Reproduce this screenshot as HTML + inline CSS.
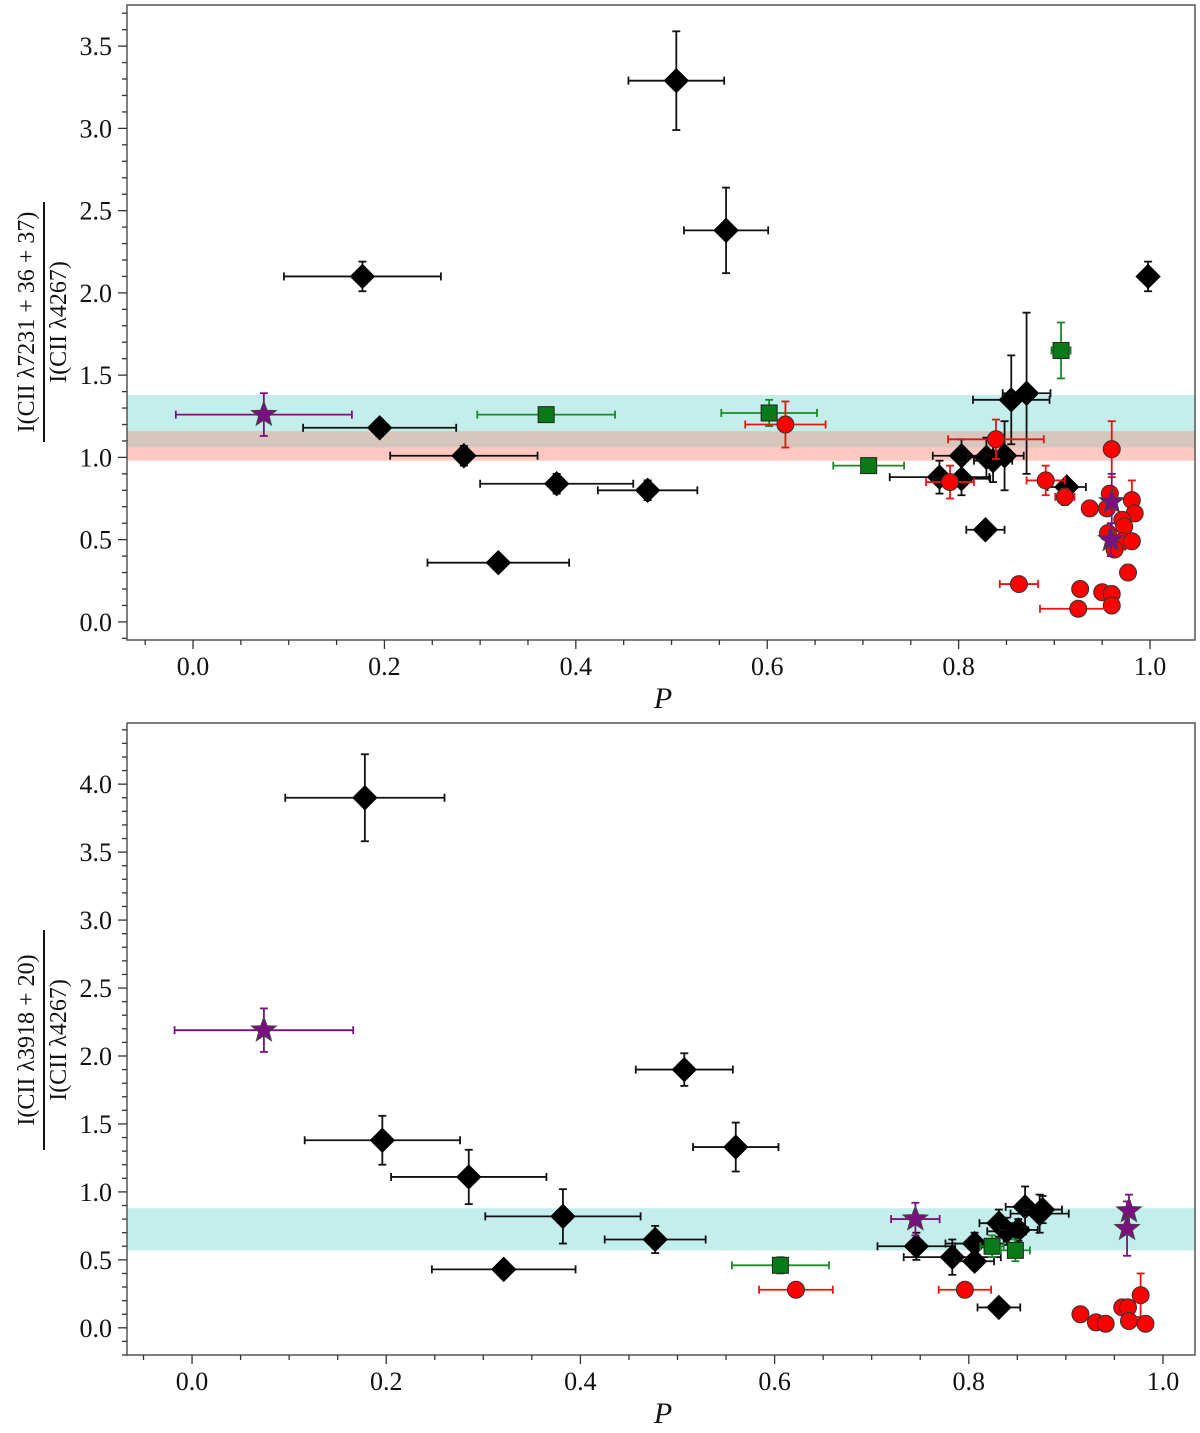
<!DOCTYPE html>
<html><head><meta charset="utf-8">
<style>
html,body{margin:0;padding:0;background:#fff;}
svg{display:block;font-family:"Liberation Serif",serif;}
svg text{font-family:"Liberation Serif",serif;}
</style></head>
<body>
<svg id="fig" width="1200" height="1433" viewBox="0 0 1200 1433" xmlns="http://www.w3.org/2000/svg"></svg>
<script>
// ---------- DATA: top panel ----------
const topDiaP   =[0.505,0.557,0.177,0.998,0.195,0.283,0.380,0.475,0.319,0.780,0.803,0.803,0.829,0.836,0.848,0.855,0.871,0.913,0.828];
const topDiaV   =[3.29,2.38,2.10,2.10,1.18,1.01,0.84,0.80,0.36,0.88,1.01,0.87,1.00,0.98,1.01,1.35,1.39,0.82,0.56];
const topDiaPe  =[0.05,0.044,0.082,0,0.08,0.077,0.08,0.052,0.074,0.052,0.03,0.03,0.02,0.02,0.02,0.04,0.025,0.02,0.02];
const topDiaVe  =[0.30,0.26,0.09,0.09,0.05,0.06,0.06,0.06,0.03,0.10,0.10,0.10,0.12,0.13,0.21,0.27,0.49,0.04,0.03];
const topSqP    =[0.369,0.602,0.706,0.907];
const topSqV    =[1.26,1.27,0.95,1.65];
const topSqPe   =[0.072,0.05,0.037,0.01];
const topSqVe   =[0.03,0.08,0.02,0.17];
const topStarP  =[0.074,0.960,0.959];
const topStarV  =[1.26,0.73,0.50];
const topStarPe =[0.092,0,0];
const topStarVe =[0.13,0.17,0.10];
const topCirP   =[0.619,0.839,0.791,0.891,0.911,0.960,0.937,0.958,0.955,0.981,0.984,0.971,0.973,0.956,0.971,0.981,0.963,0.977,0.863,0.927,0.950,0.960,0.960,0.925];
const topCirV   =[1.20,1.11,0.85,0.86,0.76,1.05,0.69,0.78,0.69,0.74,0.66,0.62,0.58,0.54,0.49,0.49,0.44,0.30,0.23,0.20,0.18,0.17,0.10,0.08];
const topCirPe  =[0.042,0.05,0.025,0.02,0.01,0,0,0,0,0,0,0,0,0,0,0,0,0,0.02,0,0,0,0,0.04];
const topCirVe  =[0.14,0.12,0.10,0.09,0.05,0.17,0.03,0.03,0.03,0.12,0.03,0.03,0.03,0.03,0.05,0.03,0.03,0.03,0.02,0.04,0.02,0.02,0.02,0.02];
const topTicksX =["0.0","0.2","0.4","0.6","0.8","1.0"];
const topTicksY =["0.0","0.5","1.0","1.5","2.0","2.5","3.0","3.5"];
// ---------- DATA: bottom panel ----------
const botDiaP   =[0.178,0.507,0.196,0.285,0.560,0.382,0.477,0.321,0.746,0.783,0.806,0.806,0.831,0.831,0.839,0.851,0.858,0.873,0.876];
const botDiaV   =[3.90,1.90,1.38,1.11,1.33,0.82,0.65,0.43,0.60,0.52,0.62,0.49,0.15,0.77,0.71,0.72,0.89,0.84,0.87];
const botDiaPe  =[0.082,0.05,0.08,0.08,0.044,0.08,0.052,0.074,0.04,0.05,0.03,0.02,0.022,0.02,0.02,0.02,0.02,0.03,0.02];
const botDiaVe  =[0.32,0.12,0.18,0.20,0.18,0.20,0.10,0.06,0.10,0.13,0.08,0.06,0.03,0.10,0.10,0.08,0.15,0.14,0.10];
const botSqP    =[0.606,0.824,0.848];
const botSqV    =[0.46,0.60,0.57];
const botSqPe   =[0.05,0.012,0.015];
const botSqVe   =[0.06,0.08,0.08];
const botStarP  =[0.074,0.745,0.965,0.963];
const botStarV  =[2.19,0.80,0.86,0.73];
const botStarPe =[0.092,0.025,0,0];
const botStarVe =[0.16,0.12,0.12,0.20];
const botCirP   =[0.622,0.796,0.915,0.931,0.941,0.958,0.964,0.965,0.977,0.982];
const botCirV   =[0.28,0.28,0.10,0.04,0.03,0.15,0.15,0.05,0.24,0.03];
const botCirPe  =[0.038,0.027,0.005,0,0,0,0,0,0,0];
const botCirVe  =[0.02,0.03,0.02,0.02,0.02,0.02,0.02,0.02,0.16,0.02];
const botTicksX =["0.0","0.2","0.4","0.6","0.8","1.0"];
const botTicksY =["0.0","0.5","1.0","1.5","2.0","2.5","3.0","3.5","4.0"];

const NS="http://www.w3.org/2000/svg";
const svg=document.getElementById('fig');
function mk(tag,attrs,parent){const e=document.createElementNS(NS,tag);for(const k in attrs)e.setAttribute(k,attrs[k]);(parent||svg).appendChild(e);return e;}
const FF='Liberation Serif, serif';

function panel(cfg){
  const g=mk('g',{});
  
  
  const L=127,R=1195,T=cfg.top,B=cfg.bottom;
  const sx=p=>L+(p-cfg.xmin)/(cfg.xmax-cfg.xmin)*(R-L);
  const sy=v=>B-(v-cfg.ymin)/(cfg.ymax-cfg.ymin)*(B-T);
  cfg.bands.forEach(b=>{
    const r=mk('rect',{x:L,y:sy(b[1]),width:R-L,height:sy(b[0])-sy(b[1]),fill:b[2]},g);
    
    
  });
  const fr=mk('rect',{x:L,y:T,width:R-L,height:B-T,fill:'none',stroke:'#555','stroke-width':1.5},g);
  
  
  for(let i=-1;i<=21;i++){const p=i*0.05;const x=sx(p);if(x<L||x>R)continue;
    const maj=(i%4===0);mk('line',{x1:x,x2:x,y1:B,y2:B+(maj?9:5),stroke:'#333','stroke-width':1.3},g);}
  cfg.xt.forEach(s=>{const t=mk('text',{x:sx(parseFloat(s)),y:B+35,'font-size':26,'font-family':FF,'text-anchor':'middle',fill:'#111'},g);t.textContent=s;
    
    });
  for(let i=-5;i<=50;i++){const v=i*0.1;const y=sy(v);if(y<T||y>B)continue;
    const maj=(i%5===0);mk('line',{x1:L,x2:L-(maj?9:5),y1:y,y2:y,stroke:'#333','stroke-width':1.3},g);}
  cfg.yt.forEach(s=>{const t=mk('text',{x:L-15,y:sy(parseFloat(s))+9,'font-size':26,'font-family':FF,'text-anchor':'end',fill:'#111'},g);t.textContent=s;
    
    });
  const xt=mk('text',{x:(L+R)/2+2,y:B+68,'font-size':30,'font-family':FF,'font-style':'italic','text-anchor':'middle',fill:'#111'},g);
  xt.textContent='P';
  
  
  const yc=cfg.ylabY;
  const yg=mk('g',{transform:`translate(40,${yc}) rotate(-90)`},g);
  
  
  const n=mk('text',{x:0,y:-6,'font-size':24,'font-family':FF,'text-anchor':'middle',fill:'#111'},yg);n.textContent=cfg.num;
  mk('line',{x1:-cfg.barw/2,x2:cfg.barw/2,y1:4,y2:4,stroke:'#111','stroke-width':2},yg);
  const d=mk('text',{x:0,y:26,'font-size':24,'font-family':FF,'text-anchor':'middle',fill:'#111'},yg);d.textContent=cfg.den;

  function series(P,V,Pe,Ve,col,ecol,shape,name){
    const sg=mk('g',{},g);
    
    
    P.forEach((p,i)=>{
      const x=sx(p),y=sy(V[i]);
      const eg=mk('g',{stroke:ecol,'stroke-width':1.8},sg);
      if(Pe[i]>0){const x1=sx(p-Pe[i]),x2=sx(p+Pe[i]);
        mk('line',{x1:x1,x2:x2,y1:y,y2:y},eg);mk('line',{x1:x1,x2:x1,y1:y-4,y2:y+4},eg);mk('line',{x1:x2,x2:x2,y1:y-4,y2:y+4},eg);}
      if(Ve[i]>0){const y1=sy(V[i]-Ve[i]),y2=sy(V[i]+Ve[i]);
        mk('line',{x1:x,x2:x,y1:y1,y2:y2},eg);mk('line',{x1:x-4,x2:x+4,y1:y1,y2:y1},eg);mk('line',{x1:x-4,x2:x+4,y1:y2,y2:y2},eg);}
      let m;
      if(shape==='d')m=mk('polygon',{points:`${x},${y-12} ${x+12},${y} ${x},${y+12} ${x-12},${y}`,fill:col,stroke:'#000','stroke-width':1},sg);
      else if(shape==='c')m=mk('circle',{cx:x,cy:y,r:8.5,fill:col,stroke:'#333','stroke-width':1},sg);
      else if(shape==='s')m=mk('rect',{x:x-8,y:y-8,width:16,height:16,fill:col,stroke:'#222','stroke-width':1},sg);
      else{let pts=[];for(let k=0;k<10;k++){const r=k%2?5.5:13;const a=-Math.PI/2+k*Math.PI/5;pts.push((x+r*Math.cos(a)).toFixed(1)+','+(y+r*Math.sin(a)).toFixed(1));}
        m=mk('polygon',{points:pts.join(' '),fill:col,stroke:'#444','stroke-width':1},sg);}
      
      
    });
  }
  cfg.series.forEach(s=>series(...s));
}

panel({name:'top-panel',top:5,bottom:640,xmin:-0.069,xmax:1.047,ymin:-0.11,ymax:3.75,
  xt:topTicksX,yt:topTicksY,ylabY:322,barw:240,
  num:'I(CII \u03bb7231 + 36 + 37)',den:'I(CII \u03bb4267)',
  bands:[[1.16,1.38,'#c4eeec'],[1.06,1.16,'#d6c6bc'],[0.98,1.06,'#ffc9c1']],
  series:[
    [topDiaP,topDiaV,topDiaPe,topDiaVe,'#000','#111','d','black-diamonds'],
    [topSqP,topSqV,topSqPe,topSqVe,'#0a7a18','#1a8a28','s','green-squares'],
    [topCirP,topCirV,topCirPe,topCirVe,'#ff0000','#ee1111','c','red-circles'],
    [topStarP,topStarV,topStarPe,topStarVe,'#7a1080','#7a1080','*','purple-stars']
  ]});
panel({name:'bottom-panel',top:723,bottom:1355,xmin:-0.067,xmax:1.033,ymin:-0.2,ymax:4.45,
  xt:botTicksX,yt:botTicksY,ylabY:1040,barw:220,
  num:'I(CII \u03bb3918 + 20)',den:'I(CII \u03bb4267)',
  bands:[[0.57,0.88,'#c4eeec']],
  series:[
    [botDiaP,botDiaV,botDiaPe,botDiaVe,'#000','#111','d','black-diamonds'],
    [botSqP,botSqV,botSqPe,botSqVe,'#0a7a18','#1a8a28','s','green-squares'],
    [botCirP,botCirV,botCirPe,botCirVe,'#ff0000','#ee1111','c','red-circles'],
    [botStarP,botStarV,botStarPe,botStarVe,'#7a1080','#7a1080','*','purple-stars']
  ]});
</script>
</body></html>
